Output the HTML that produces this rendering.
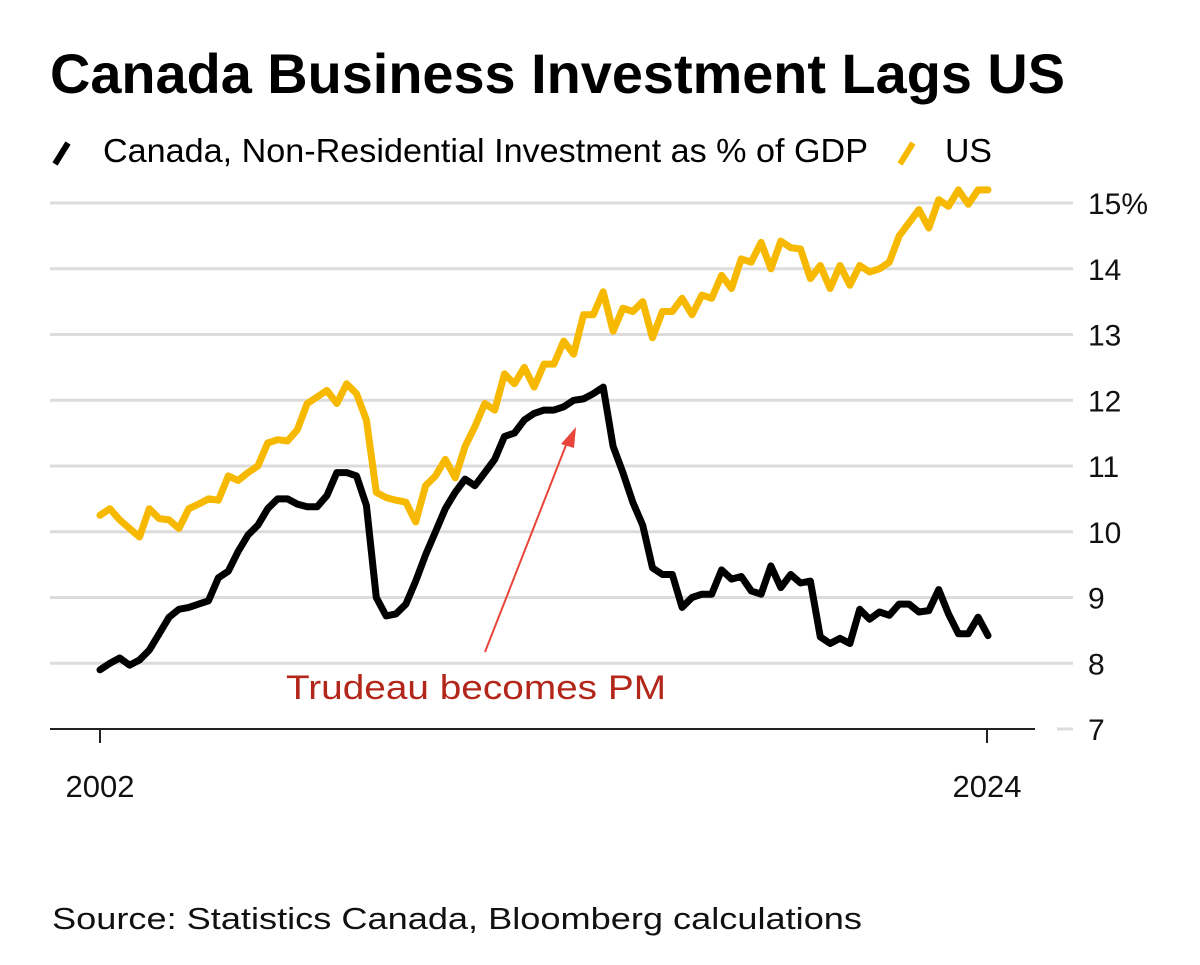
<!DOCTYPE html>
<html><head><meta charset="utf-8"><style>
html,body{margin:0;padding:0;background:#fff;}
svg{display:block;font-family:"Liberation Sans",sans-serif;}
</style></head><body>
<svg width="1200" height="965" viewBox="0 0 1200 965">
<text x="50" y="93" font-size="56" font-weight="bold" textLength="1015" lengthAdjust="spacingAndGlyphs">Canada Business Investment Lags US</text>
<line x1="55" y1="164" x2="68" y2="143" stroke="#000" stroke-width="6"/>
<text x="103" y="162" font-size="33" textLength="765" lengthAdjust="spacingAndGlyphs">Canada, Non-Residential Investment as % of GDP</text>
<line x1="900" y1="164" x2="913" y2="143" stroke="#f6b900" stroke-width="6"/>
<text x="945" y="162" font-size="33" textLength="47" lengthAdjust="spacingAndGlyphs">US</text>
<g id="grid"></g>
<g id="series"></g>
<line x1="50" y1="729" x2="1035" y2="729" stroke="#222" stroke-width="2"/>
<line x1="1057" y1="729" x2="1073" y2="729" stroke="#ddd" stroke-width="3"/>
<g id="xt"></g>
<line x1="485" y1="652" x2="568" y2="440" stroke="#e8463a" stroke-width="2"/>
<polygon points="576,427 561,444 574,448" fill="#e8463a"/>
<text x="476" y="699" font-size="34" fill="#b3261a" text-anchor="middle" textLength="380" lengthAdjust="spacingAndGlyphs">Trudeau becomes PM</text>
<text x="52" y="929" font-size="31" fill="#111" textLength="810" lengthAdjust="spacingAndGlyphs">Source: Statistics Canada, Bloomberg calculations</text>
</svg>
<script>
const yTicks=[7,8,9,10,11,12,13,14,15];
const yTickLabels=["7","8","9","10","11","12","13","14","15%"];
const xTickLabels=["2002","2024"];
const xTickYears=[2002,2024];
const canada=[7.9,8.0,8.08,7.97,8.05,8.2,8.45,8.7,8.82,8.85,8.9,8.95,9.3,9.4,9.7,9.95,10.1,10.35,10.5,10.5,10.42,10.38,10.38,10.55,10.9,10.9,10.85,10.4,9.0,8.72,8.75,8.9,9.25,9.65,10.0,10.35,10.6,10.8,10.7,10.9,11.1,11.45,11.5,11.7,11.8,11.85,11.85,11.9,12.0,12.02,12.1,12.2,11.3,10.9,10.45,10.1,9.45,9.35,9.35,8.85,9.0,9.05,9.05,9.42,9.28,9.32,9.1,9.05,9.48,9.15,9.35,9.22,9.25,8.4,8.3,8.38,8.3,8.82,8.67,8.78,8.73,8.9,8.9,8.78,8.8,9.12,8.75,8.45,8.45,8.7,8.42];
const us=[10.25,10.35,10.18,10.05,9.92,10.35,10.2,10.18,10.05,10.35,10.42,10.5,10.48,10.85,10.78,10.9,11.0,11.35,11.4,11.38,11.55,11.95,12.05,12.15,11.95,12.25,12.1,11.7,10.6,10.52,10.48,10.45,10.15,10.7,10.85,11.1,10.82,11.3,11.6,11.95,11.85,12.4,12.25,12.5,12.2,12.55,12.55,12.9,12.7,13.3,13.3,13.65,13.05,13.4,13.35,13.5,12.95,13.35,13.35,13.55,13.3,13.6,13.55,13.9,13.7,14.15,14.1,14.4,14.0,14.42,14.32,14.3,13.85,14.05,13.7,14.05,13.75,14.05,13.95,14.0,14.1,14.5,14.7,14.9,14.62,15.05,14.95,15.2,14.98,15.2,15.2];
const NS="http://www.w3.org/2000/svg";
const yS=v=>729-(v-7)*65.75;
const xYear=y=>100+(y-2002)*(887/22);
const xIdx=(i,n)=>100+i*(888/(n-1));
const grid=document.getElementById('grid');
yTicks.forEach((t,k)=>{
  if(t>7){const l=document.createElementNS(NS,'line');
  l.setAttribute('x1',50);l.setAttribute('x2',1073);l.setAttribute('y1',yS(t));l.setAttribute('y2',yS(t));
  l.setAttribute('stroke','#dcdcdc');l.setAttribute('stroke-width','3');
  
  
  grid.appendChild(l);}
  const tx=document.createElementNS(NS,'text');
  tx.setAttribute('x',1088);tx.setAttribute('y',yS(t)+11);tx.setAttribute('font-size','30');tx.setAttribute('fill','#111');
  tx.textContent=yTickLabels[k];
  
  
  grid.appendChild(tx);
});
const xt=document.getElementById('xt');
xTickYears.forEach((yr,k)=>{
  const l=document.createElementNS(NS,'line');
  l.setAttribute('x1',xYear(yr));l.setAttribute('x2',xYear(yr));l.setAttribute('y1',729);l.setAttribute('y2',743);
  l.setAttribute('stroke','#222');l.setAttribute('stroke-width','2');
  
  
  xt.appendChild(l);
  const tx=document.createElementNS(NS,'text');
  tx.setAttribute('x',xYear(yr));tx.setAttribute('y',797);tx.setAttribute('font-size','31');tx.setAttribute('text-anchor','middle');tx.setAttribute('fill','#111');
  tx.textContent=xTickLabels[k];
  
  
  xt.appendChild(tx);
});
const ser=document.getElementById('series');
function draw(arr,color,name){
  const p=document.createElementNS(NS,'polyline');
  p.setAttribute('points',arr.map((v,i)=>xIdx(i,arr.length).toFixed(1)+','+yS(v).toFixed(1)).join(' '));
  p.setAttribute('fill','none');p.setAttribute('stroke',color);p.setAttribute('stroke-width','7');p.setAttribute('stroke-linejoin','round');p.setAttribute('stroke-linecap','round');
  
  
  ser.appendChild(p);
}
draw(us,'#f6b900','us-line');
draw(canada,'#000','canada-line');
</script>
</body></html>
